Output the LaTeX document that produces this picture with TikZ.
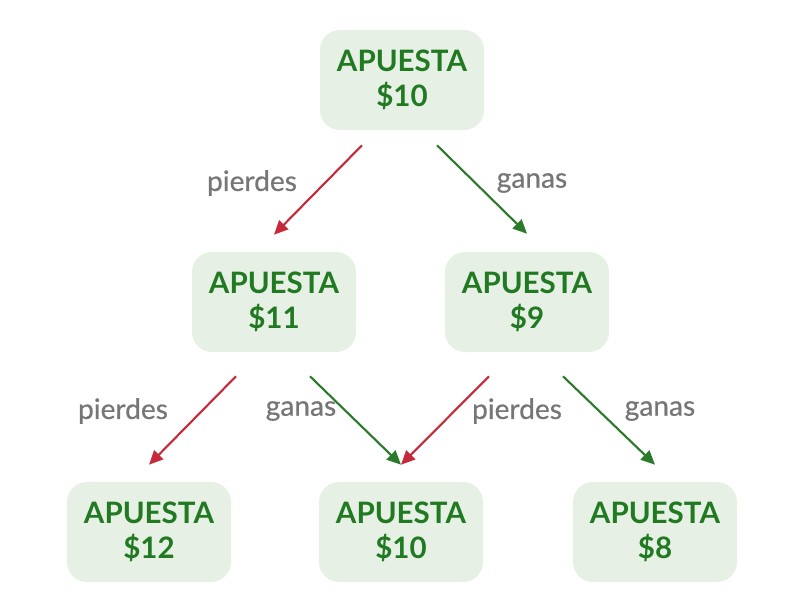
\documentclass[tikz,border=0pt]{standalone}
\usepackage{fontspec}
\setmainfont{Lato}
\newfontfamily\lblfont[FakeBold=0.5]{Lato}
\usepackage{xcolor}
\usetikzlibrary{positioning,arrows.meta}

\definecolor{boxfill}{HTML}{E6F0E5}
\definecolor{boxtext}{HTML}{217A21}
\definecolor{losecol}{HTML}{C62A3A}
\definecolor{wincol}{HTML}{2A7A2A}
\definecolor{labelcol}{HTML}{767676}

\begin{document}
\begin{tikzpicture}[x=0.025cm, y=-0.025cm,
  bet/.style={fill=boxfill, rounded corners=0.5cm, minimum width=4.1cm, minimum height=2.5cm,
    align=center, text=boxtext, font=\fontsize{21}{25}\selectfont\bfseries},
  lose/.style={draw=losecol, line width=1.5pt, -{Triangle[length=10pt,width=9pt]}},
  win/.style={lose, draw=wincol},
  lbl/.style={text=labelcol, font=\lblfont\fontsize{20}{24}\selectfont}]
  \useasboundingbox (0,0) rectangle (800,592);

  \node[bet] (t) at (402,80) {APUESTA\\\$10};
  \node[bet] (ml) at (274,302) {APUESTA\\\$11};
  \node[bet] (mr) at (527,302) {APUESTA\\\$9};
  \node[bet] (bl) at (149,532) {APUESTA\\\$12};
  \node[bet] (bm) at (401,532) {APUESTA\\\$10};
  \node[bet] (br) at (655,532) {APUESTA\\\$8};

  % first round
  \draw[lose] ([xshift=-1cm,yshift=-0.375cm]t.south) -- ([yshift=0.425cm]ml.north);
  \draw[win] ([xshift=0.875cm,yshift=-0.375cm]t.south) -- ([yshift=0.45cm]mr.north);
  \node[lbl] (p1) at (252,183) {pierdes};
  \node[lbl] (g1) at (532,183) {ganas};

  % second round
  \draw[lose] ([xshift=-0.95cm,yshift=-0.6cm]ml.south) -- ([yshift=0.425cm]bl.north);
  \draw[win] ([xshift=0.9cm,yshift=-0.6cm]ml.south) -- ([yshift=0.425cm]bm.north);
  \draw[lose] ([xshift=-0.95cm,yshift=-0.6cm]mr.south) -- ([yshift=0.425cm]bm.north);
  \draw[win] ([xshift=0.9cm,yshift=-0.6cm]mr.south) -- ([yshift=0.425cm]br.north);
  \node[lbl] (p2) at (123,411) {pierdes};
  \node[lbl] (g2) at (301,411) {ganas};
  \node[lbl] (p3) at (517,411) {pierdes};
  \node[lbl] (g3) at (660,411) {ganas};
\end{tikzpicture}
\end{document}
